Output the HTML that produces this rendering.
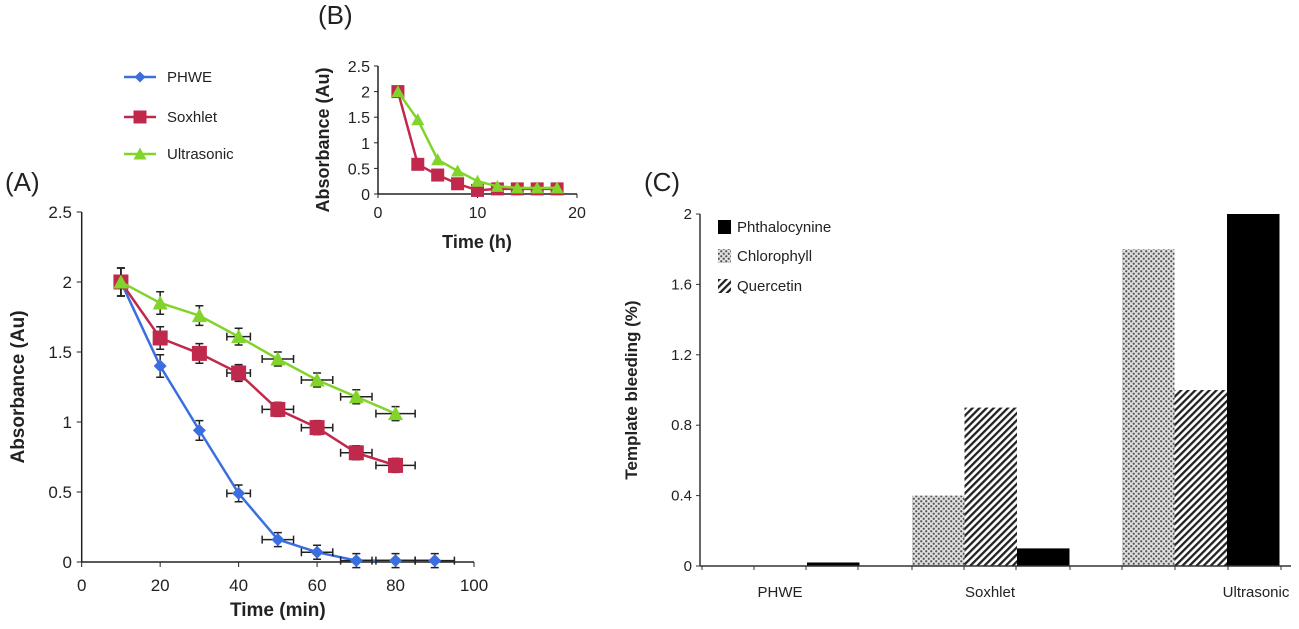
<!DOCTYPE html>
<html><head><meta charset="utf-8"><style>
body{margin:0;background:#fff;}
svg text{font-family:"Liberation Sans",Arial,sans-serif;fill:#222;}
</style></head><body>
<svg id="fig" width="1299" height="624" viewBox="0 0 1299 624" xmlns="http://www.w3.org/2000/svg">
<defs>
<pattern id="chk" width="5" height="5" patternUnits="userSpaceOnUse">
<rect width="5" height="5" fill="#e0e0e0"/><circle cx="1.25" cy="1.25" r="1.1" fill="#555"/><circle cx="3.75" cy="3.75" r="1.1" fill="#555"/>
</pattern>
<pattern id="diag" width="5" height="5" patternUnits="userSpaceOnUse" patternTransform="rotate(45)">
<rect width="5" height="5" fill="#fff"/><rect width="2.3" height="5" fill="#222"/>
</pattern>
</defs>
<text x="5" y="191" font-size="26">(A)</text>
<text x="318" y="24" font-size="26">(B)</text>
<text x="644" y="191" font-size="26">(C)</text>
<g id="gA"></g>
<g id="gB"></g>
<g id="gC"></g>
<g id="legA"></g>
</svg>
<script>
// Panel A data
const timeA = [10,20,30,40,50,60,70,80,90];
const phweA = [2,1.4,0.94,0.49,0.16,0.07,0.01,0.01,0.01];
const soxA = [2,1.6,1.49,1.35,1.09,0.96,0.78,0.69];
const ultraA = [2,1.85,1.76,1.61,1.45,1.3,1.18,1.06];
const yErrA = [0.1,0.08,0.07,0.06,0.05,0.05,0.05,0.05,0.05];
const xErrA = [0,0,0,3,4,4,4,5,5];
const xTicksA = [0,20,40,60,80,100];
const yTicksA = ["0","0.5","1","1.5","2","2.5"];
// Panel B data
const timeB = [2,4,6,8,10,12,14,16,18];
const soxB = [2,0.58,0.37,0.2,0.07,0.1,0.1,0.1,0.1];
const ultraB = [2,1.45,0.67,0.45,0.25,0.15,0.12,0.12,0.12];
const xTicksB = [0,10,20];
// Panel C data
const methodsC = ["PHWE","Soxhlet","Ultrasonic"];
const chloroC = [0,0.4,1.8];
const querC = [0,0.9,1.0];
const phthC = [0.02,0.1,2.0];
const yTicksC = ["0","0.4","0.8","1.2","1.6","2"];

const NS="http://www.w3.org/2000/svg";
function mk(parent,tag,attrs,txt){const e=document.createElementNS(NS,tag);for(const k in attrs)e.setAttribute(k,attrs[k]);if(txt!==undefined)e.textContent=txt;parent.appendChild(e);return e;}
const BLUE="#3b6fe0",RED="#c0284c",GREEN="#82d42a";
function marker(g,type,x,y,s,color){
  let e;
  if(type==="sq") e=mk(g,"rect",{x:x-s/2,y:y-s/2,width:s,height:s,fill:color});
  else if(type==="di") e=mk(g,"polygon",{points:`${x},${y-s/2} ${x+s/2},${y} ${x},${y+s/2} ${x-s/2},${y}`,fill:color});
  else e=mk(g,"polygon",{points:`${x},${y-s/2} ${x+s/2},${y+s/2-1} ${x-s/2},${y+s/2-1}`,fill:color});
  return e;
}
// ---- Panel A
(function(){
  const g=document.getElementById("gA");
  const X=v=>81.7+(v/100)*(474-81.7), Y=v=>562-(v/2.5)*(562-212);
  let e=mk(g,"line",{x1:X(0),y1:Y(0),x2:X(100),y2:Y(0),stroke:"#222","stroke-width":1.5});
  
  e=mk(g,"line",{x1:X(0),y1:Y(0),x2:X(0),y2:Y(2.5),stroke:"#222","stroke-width":1.5});
  
  xTicksA.forEach(t=>{mk(g,"line",{x1:X(t),y1:Y(0),x2:X(t),y2:Y(0)+5,stroke:"#222"});
    e=mk(g,"text",{x:X(t),y:591,"font-size":17,"text-anchor":"middle"},t);
    });
  yTicksA.forEach(t=>{const v=parseFloat(t);mk(g,"line",{x1:X(0)-5,y1:Y(v),x2:X(0),y2:Y(v),stroke:"#222"});
    e=mk(g,"text",{x:72,y:Y(v)+6,"font-size":17,"text-anchor":"end"},t);
    });
  e=mk(g,"text",{x:X(50),y:616,"font-size":19,"font-weight":"bold","text-anchor":"middle"},"Time (min)");
  
  e=mk(g,"text",{x:0,y:0,"font-size":19,"font-weight":"bold","text-anchor":"middle",transform:`translate(24,387) rotate(-90)`},"Absorbance (Au)");
  
  const series=[[phweA,BLUE,"di",13,"phwe"],[soxA,RED,"sq",15,"soxhlet"],[ultraA,GREEN,"tr",15,"ultrasonic"]];
  series.forEach(([d,c,m,s,n])=>{
    const pts=d.map((v,i)=>X(timeA[i])+","+Y(v)).join(" ");
    e=mk(g,"polyline",{points:pts,fill:"none",stroke:c,"stroke-width":2.5});
    
    d.forEach((v,i)=>{
      const x=X(timeA[i]),y=Y(v),ye=(Y(0)-Y(yErrA[i])),xe=X(xErrA[i])-X(0);
      mk(g,"path",{d:`M${x},${y-ye}V${y+ye}M${x-4},${y-ye}H${x+4}M${x-4},${y+ye}H${x+4}`+(xe>0?`M${x-xe},${y}H${x+xe}M${x-xe},${y-4}V${y+4}M${x+xe},${y-4}V${y+4}`:""),stroke:"#222","stroke-width":1.5,fill:"none"});
      e=marker(g,m,x,y,s,c);
      
    });
  });
})();
// ---- Legend
(function(){
  const g=document.getElementById("legA");
  const items=[["PHWE",BLUE,"di",11],["Soxhlet",RED,"sq",13],["Ultrasonic",GREEN,"tr",13]];
  items.forEach(([t,c,m,s],i)=>{
    const y=[77,117,154][i];
    mk(g,"line",{x1:124,y1:y,x2:156,y2:y,stroke:c,"stroke-width":2.5});
    marker(g,m,140,y,s,c);
    const e=mk(g,"text",{x:167,y:y+5,"font-size":15},t);
    
  });
})();
// ---- Panel B
(function(){
  const g=document.getElementById("gB");
  const X=v=>378+(v/20)*(577-378), Y=v=>194-(v/2.5)*(194-66);
  mk(g,"line",{x1:X(0),y1:Y(0),x2:X(20),y2:Y(0),stroke:"#222","stroke-width":1.5});
  mk(g,"line",{x1:X(0),y1:Y(0),x2:X(0),y2:Y(2.5),stroke:"#222","stroke-width":1.5});
  let e;
  xTicksB.forEach(t=>{mk(g,"line",{x1:X(t),y1:Y(0),x2:X(t),y2:Y(0)+4,stroke:"#222"});
    e=mk(g,"text",{x:X(t),y:218,"font-size":16,"text-anchor":"middle"},t);
    });
  yTicksA.forEach(t=>{const v=parseFloat(t);mk(g,"line",{x1:X(0)-4,y1:Y(v),x2:X(0),y2:Y(v),stroke:"#222"});
    e=mk(g,"text",{x:370,y:Y(v)+6,"font-size":16,"text-anchor":"end"},t);
    });
  e=mk(g,"text",{x:477,y:248,"font-size":18,"font-weight":"bold","text-anchor":"middle"},"Time (h)");
  
  e=mk(g,"text",{x:0,y:0,"font-size":18,"font-weight":"bold","text-anchor":"middle",transform:`translate(329,140) rotate(-90)`},"Absorbance (Au)");
  
  [[soxB,RED,"sq",13,"soxhlet-b"],[ultraB,GREEN,"tr",13,"ultrasonic-b"]].forEach(([d,c,m,s,n])=>{
    e=mk(g,"polyline",{points:d.map((v,i)=>X(timeB[i])+","+Y(v)).join(" "),fill:"none",stroke:c,"stroke-width":2.5});
    
    d.forEach((v,i)=>{e=marker(g,m,X(timeB[i]),Y(v),s,c);
      });
  });
})();
// ---- Panel C
(function(){
  const g=document.getElementById("gC");
  const Y=v=>566-(v/2)*(566-214);
  const bw=52.5, gx=i=>702+210*i;
  let e;
  const fills=[["url(#chk)",chloroC,"chlorophyll"],["url(#diag)",querC,"quercetin"],["#000",phthC,"phthalocynine"]];
  methodsC.forEach((m,i)=>{
    fills.forEach(([f,d,n],j)=>{
      const v=d[i]; if(v<=0) return;
      e=mk(g,"rect",{x:gx(i)+j*bw,y:Y(v),width:bw,height:Y(0)-Y(v),fill:f});
      
    });
  });
  mk(g,"line",{x1:700,y1:Y(0),x2:1291,y2:Y(0),stroke:"#333","stroke-width":1.5});
  mk(g,"line",{x1:700,y1:Y(0),x2:700,y2:Y(2),stroke:"#333","stroke-width":1.5});
  [702,754,806,858,912,964,1016,1070,1122,1175,1228,1281].forEach(x=>mk(g,"line",{x1:x,y1:Y(0),x2:x,y2:Y(0)+4,stroke:"#333"}));
  yTicksC.forEach(t=>{const v=parseFloat(t);mk(g,"line",{x1:696,y1:Y(v),x2:700,y2:Y(v),stroke:"#333"});
    e=mk(g,"text",{x:692,y:Y(v)+5,"font-size":15,"text-anchor":"end"},t);
    });
  [780,990,1256].forEach((x,i)=>{e=mk(g,"text",{x:x,y:597,"font-size":15,"text-anchor":"middle","fill":"#333"},methodsC[i]);
    });
  e=mk(g,"text",{x:0,y:0,"font-size":17,"font-weight":"bold","text-anchor":"middle",transform:`translate(637,390) rotate(-90)`},"Template bleeding (%)");
  
  [["#000","Phthalocynine",227],["url(#chk)","Chlorophyll",256],["url(#diag)","Quercetin",286]].forEach(([f,t,y])=>{
    mk(g,"rect",{x:718,y:y-7,width:13,height:14,fill:f});
    e=mk(g,"text",{x:737,y:y+5,"font-size":15},t);
    
  });
})();
</script>
</body></html>
